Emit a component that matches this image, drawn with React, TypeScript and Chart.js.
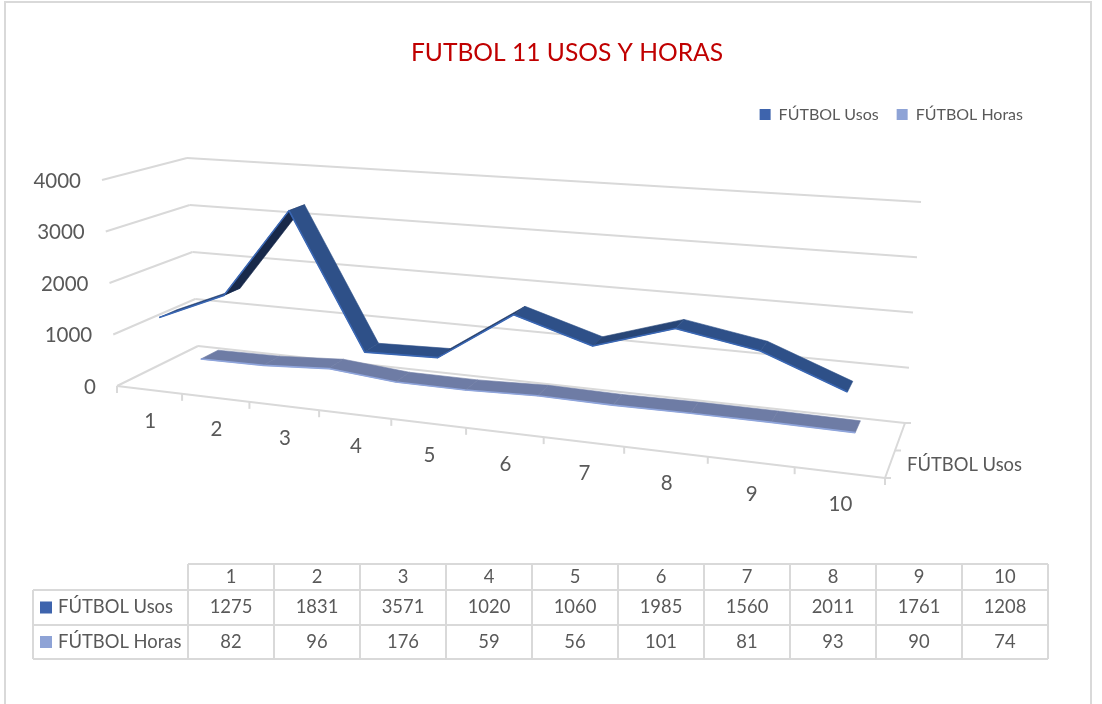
import React, { useEffect, useRef } from "react";
import { Chart, registerables } from "chart.js";

Chart.register(...registerables);

const categories = ["1", "2", "3", "4", "5", "6", "7", "8", "9", "10"];
const usos = [1275, 1831, 3571, 1020, 1060, 1985, 1560, 2011, 1761, 1208];
const horas = [82, 96, 176, 59, 56, 101, 81, 93, 90, 74];
const seriesNames = ["FÚTBOL Usos", "FÚTBOL Horas"];
const chartTitle = "FUTBOL 11 USOS Y HORAS";

const FONT = "Lato";
const GRID = "#D9D9D9";
const TEXT = "#595959";
const SWATCH = ["#3E64AD", "#8EA3D6"];

// 3D box corners on the page: [front/back][left/right][floor/top]
const F0L = [117, 386], F0R = [885, 478], F4L = [102, 180], F4R = [899, 238];
const B0L = [198, 346], B0R = [905, 423], B4L = [187, 158], B4R = [921, 202];
const PERSPECTIVE = 1.2;
const mix = (a: number[], b: number[], t: number) => [a[0] + (b[0] - a[0]) * t, a[1] + (b[1] - a[1]) * t];
const spread = (u: number) => u / (u + PERSPECTIVE * (10 - u));
function project(u: number, v: number, d: number) {
  const s = spread(u);
  const front = mix(mix(F0L, F0R, s), mix(F4L, F4R, s), v);
  const back = mix(mix(B0L, B0R, s), mix(B4L, B4R, s), v);
  return mix(front, back, d);
}

const RIBBONS = [
  { dataset: 1, near: 0.66, far: 0.88, top: [110, 124, 165], under: [110, 124, 165], edge: "#8FA5DC" },
  { dataset: 0, near: 0.18, far: 0.4, top: [46, 80, 136], under: [24, 41, 74], edge: "#3A67B4" },
];

const TABLE = { left: 33, first: 188, col: 86, rows: [564, 590, 625, 659], key: 12 };

function line(ctx: CanvasRenderingContext2D, a: number[], b: number[]) {
  ctx.beginPath();
  ctx.moveTo(a[0], a[1]);
  ctx.lineTo(b[0], b[1]);
  ctx.stroke();
}

const scene = {
  id: "scene3d",
  beforeDatasetsDraw(chart: any) {
    const ctx: CanvasRenderingContext2D = chart.ctx;
    const xs = chart.scales.x, ys = chart.scales.y;
    const vOf = (px: number) => (ys.bottom - px) / ys.height;
    ctx.save();

    // outer frame
    ctx.strokeStyle = GRID;
    ctx.lineWidth = 2;
    ctx.beginPath();
    ctx.moveTo(5, 704);
    ctx.lineTo(5, 2);
    ctx.lineTo(1091, 2);
    ctx.lineTo(1091, 704);
    ctx.stroke();

    // walls and value labels
    ctx.font = `20.5px ${FONT}`;
    ctx.fillStyle = TEXT;
    ctx.textAlign = "right";
    ctx.textBaseline = "middle";
    ys.ticks.forEach((t: any) => {
      const v = vOf(ys.getPixelForValue(t.value));
      const f = project(0, v, 0), bl = project(0, v, 1), br = project(10, v, 1);
      line(ctx, f, bl);
      line(ctx, bl, br);
      ctx.fillText(String(t.value), f[0] - 21, f[1] + 1);
    });

    // floor front edge, ticks, depth axis
    const n = categories.length;
    line(ctx, project(0, 0, 0), project(n, 0, 0));
    line(ctx, project(n, 0, 0), project(n, 0, 1));
    for (let u = 0; u <= n; u++) {
      const p = project(u, 0, 0);
      line(ctx, p, [p[0], p[1] + 7]);
    }
    [0, 0.5, 1].forEach((d) => {
      const p = project(n, 0, d);
      line(ctx, p, [p[0] + 6, p[1]]);
    });

    // category labels
    ctx.textAlign = "center";
    categories.forEach((c, i) => {
      const u = (xs.getPixelForValue(i) - xs.left) / xs.width * n;
      const p = project(u, 0, 0);
      ctx.fillText(c, p[0] + 1, p[1] + 32);
    });
    ctx.textAlign = "left";
    ctx.font = `18.4px ${FONT}`;
    ctx.fillText(seriesNames[0], 907, 465);

    // ribbons
    RIBBONS.forEach((r) => {
      const pts = chart.getDatasetMeta(r.dataset).data;
      const uv = pts.map((el: any) => [(el.x - xs.left) / xs.width * n, vOf(el.y)]);
      for (let i = 0; i < uv.length - 1; i++) {
        const a = project(uv[i][0], uv[i][1], r.near);
        const b = project(uv[i + 1][0], uv[i + 1][1], r.near);
        const c = project(uv[i + 1][0], uv[i + 1][1], r.far);
        const e = project(uv[i][0], uv[i][1], r.far);
        // rising faces turn away from the light
        const rise = Math.max(0, Math.min(1, (uv[i + 1][1] - uv[i][1]) / 0.42));
        const m = r.top.map((ch, k) => Math.round(ch + (r.under[k] - ch) * rise));
        const shade = `rgb(${m[0]},${m[1]},${m[2]})`;
        ctx.fillStyle = shade;
        ctx.strokeStyle = shade;
        ctx.lineWidth = 0.6;
        ctx.beginPath();
        ctx.moveTo(a[0], a[1]);
        ctx.lineTo(b[0], b[1]);
        ctx.lineTo(c[0], c[1]);
        ctx.lineTo(e[0], e[1]);
        ctx.closePath();
        ctx.fill();
        ctx.stroke();
      }
      ctx.strokeStyle = r.edge;
      ctx.lineWidth = 1.6;
      ctx.lineJoin = "round";
      ctx.beginPath();
      uv.forEach((q: number[], i: number) => {
        const p = project(q[0], q[1], r.near);
        if (i) ctx.lineTo(p[0], p[1]);
        else ctx.moveTo(p[0], p[1]);
      });
      ctx.stroke();
    });

    // data table
    const { left, first, col, rows, key } = TABLE;
    const right = first + col * n;
    ctx.strokeStyle = GRID;
    ctx.lineWidth = 2;
    rows.forEach((y, i) => line(ctx, [i === 0 ? first : left, y], [right, y]));
    line(ctx, [left, rows[1]], [left, rows[3]]);
    for (let i = 0; i <= n; i++) line(ctx, [first + col * i, rows[0]], [first + col * i, rows[3]]);
    ctx.font = `18.4px ${FONT}`;
    ctx.fillStyle = TEXT;
    ctx.textAlign = "center";
    categories.forEach((c, i) => ctx.fillText(c, first + col * (i + 0.5), 577));
    chart.data.datasets.forEach((ds: any, k: number) => {
      const y = (rows[k + 1] + rows[k + 2]) / 2;
      ctx.fillStyle = SWATCH[k];
      ctx.fillRect(40, y - key / 2, key, key);
      ctx.fillStyle = TEXT;
      ctx.textAlign = "left";
      ctx.fillText(ds.label, 58, y);
      ctx.textAlign = "center";
      ds.data.forEach((val: number, i: number) => ctx.fillText(String(val), first + col * (i + 0.5), y));
    });
    ctx.restore();
  },
};

export default function App() {
  const ref = useRef<HTMLCanvasElement>(null);
  useEffect(() => {
    if (!ref.current) return;
    const chart = new Chart(ref.current, {
      type: "line",
      data: {
        labels: categories,
        datasets: [
          { label: seriesNames[0], data: usos, backgroundColor: SWATCH[0], borderColor: SWATCH[0], borderWidth: 0, pointRadius: 0, showLine: false },
          { label: seriesNames[1], data: horas, backgroundColor: SWATCH[1], borderColor: SWATCH[1], borderWidth: 0, pointRadius: 0, showLine: false },
        ],
      },
      options: {
        animation: false,
        responsive: false,
        layout: { padding: { left: 93, right: 61, top: 0, bottom: 60 } },
        scales: {
          x: { display: false, offset: true },
          y: { display: false, min: 0, max: 4000, ticks: { stepSize: 1000 } },
        },
        plugins: {
          title: {
            display: true,
            text: chartTitle,
            color: "#C00000",
            font: { family: FONT, size: 24.6, weight: "normal" },
            padding: { top: 38, bottom: 21 },
          },
          legend: {
            position: "top",
            align: "end",
            labels: {
              boxWidth: 11,
              boxHeight: 11,
              padding: 18,
              color: TEXT,
              font: { family: FONT, size: 16 },
            },
          },
          tooltip: { enabled: false },
        },
      },
      plugins: [scene],
    } as any);
    return () => chart.destroy();
  }, []);
  return (
    <div style={{ position: "fixed", left: 0, top: 0, width: 1102, height: 704, background: "#fff" }}>
      <canvas ref={ref} width={1102} height={704} style={{ display: "block" }} />
    </div>
  );
}
